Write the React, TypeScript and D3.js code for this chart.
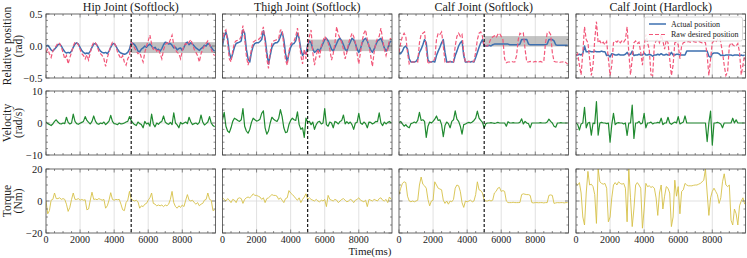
import { useEffect, useRef } from "react";
import * as d3 from "d3";

const W = 747;
const H = 258;
const STEP_MS = 100; // sampling interval of every series below
const X_MAX = 9950;
const SWITCH_MS = 5000;

const titles = [
  "Hip Joint (Softlock)",
  "Thigh Joint (Softlock)",
  "Calf Joint (Softlock)",
  "Calf Joint (Hardlock)",
];
const rowLabels = [
  ["Relative position", "(rad)"],
  ["Velocity", "(rad/s)"],
  ["Torque", "(Nm)"],
];
const xTicks = [0, 2000, 4000, 6000, 8000];
const yTicks = [
  [-0.5, 0, 0.5],
  [-10, 0, 10],
  [-20, 0, 20],
];
const yTickLabels = [
  ["\u22120.5", "0.0", "0.5"],
  ["\u221210", "0", "10"],
  ["\u221220", "0", "20"],
];
const legendLabels = ["Actual position", "Raw desired position"];

// shaded lock range after the switch (rad)
const bands: ([number, number] | null)[] = [[-0.11, 0.06], [-0.08, 0.1], [-0.005, 0.155], null];

// ---- relative position (rad) ----
const hipActual = [
  0.0, 0.01, -0.02, -0.06, -0.08, -0.05, -0.02, 0.02, 0.03, 0.0,
  -0.05, -0.09, -0.11, -0.1, -0.11, -0.08, -0.02, 0.03, 0.05, 0.03,
  -0.02, -0.07, -0.1, -0.12, -0.11, -0.12, -0.08, -0.02, 0.03, 0.04,
  0.01, -0.04, -0.08, -0.1, -0.11, -0.1, -0.12, -0.08, -0.02, 0.03,
  0.04, 0.0, -0.05, -0.09, -0.11, -0.12, -0.13, -0.12, -0.1, -0.05,
  0.05, 0.04, 0.02, -0.02, -0.08, -0.09, -0.05, -0.03, 0.0, -0.02,
  0.01, 0.03, 0.0, -0.04, -0.02, -0.06, -0.05, -0.08, -0.04, 0.02,
  0.06, 0.05, 0.03, 0.04, 0.01, -0.03, -0.02, -0.06, -0.04, -0.03,
  -0.07, -0.02, 0.04, 0.06, 0.02, 0.05, 0.03, 0.0, -0.03, -0.05,
  -0.07, -0.04, -0.02, 0.01, 0.0, 0.04, 0.02, -0.02, -0.06, -0.08,
];
const hipDesired = [
  -0.1, -0.05, -0.12, -0.18, -0.08, -0.03, 0.0, 0.05, 0.04, -0.02,
  -0.1, -0.2, -0.15, -0.28, -0.18, -0.1, 0.0, 0.06, 0.05, 0.02,
  -0.05, -0.12, -0.15, -0.2, -0.14, -0.22, -0.1, 0.0, 0.06, 0.05,
  0.0, -0.08, -0.12, -0.15, -0.2, -0.32, -0.18, -0.1, 0.0, 0.06,
  0.05, 0.0, -0.1, -0.15, -0.2, -0.15, -0.25, -0.3, -0.2, -0.15,
  0.06, 0.02, -0.03, -0.08, -0.12, -0.1, -0.18, -0.25, -0.1, 0.0,
  0.08, 0.17, 0.03, -0.05, -0.03, -0.08, -0.05, -0.12, -0.2, -0.06,
  0.02, 0.05, 0.03, 0.1, 0.17, 0.02, -0.06, -0.1, -0.12, -0.2,
  -0.08, 0.0, 0.04, 0.02, 0.06, 0.1, 0.03, -0.05, -0.1, -0.15,
  -0.25, -0.12, -0.05, 0.0, 0.04, 0.08, 0.03, -0.05, -0.12, -0.15,
];
const thighActual = [
  0.0, 0.15, 0.22, 0.12, -0.1, -0.2, -0.12, -0.02, 0.04, 0.05,
  0.06, 0.08, 0.25, 0.2, -0.05, -0.2, -0.25, -0.1, 0.0, 0.04,
  0.05, 0.05, 0.07, 0.1, 0.24, 0.12, -0.1, -0.28, -0.15, -0.02,
  0.03, 0.05, 0.05, 0.08, 0.15, 0.22, 0.1, -0.12, -0.25, -0.12,
  -0.02, 0.03, 0.04, 0.08, 0.2, 0.12, -0.05, -0.15, -0.1, -0.12,
  0.02, 0.08, 0.05, -0.05, -0.1, -0.08, -0.05, -0.08, -0.02, 0.04,
  0.1, 0.12, 0.08, 0.02, -0.05, -0.08, -0.02, 0.04, 0.1, 0.12,
  0.08, 0.02, -0.05, -0.08, 0.0, 0.06, 0.12, 0.1, 0.04, -0.05,
  -0.1, -0.04, 0.05, 0.1, 0.12, 0.08, 0.0, -0.06, -0.1, -0.05,
  0.02, 0.08, 0.1, 0.12, 0.05, -0.03, -0.08, -0.04, 0.05, 0.08,
];
const thighDesired = [
  0.05, 0.22, 0.25, 0.05, -0.2, -0.25, -0.08, 0.05, 0.08, 0.09,
  0.1, 0.15, 0.32, 0.12, -0.15, -0.3, -0.2, -0.05, 0.06, 0.08,
  0.1, 0.1, 0.12, 0.2, 0.3, 0.05, -0.2, -0.35, -0.1, 0.04,
  0.08, 0.09, 0.1, 0.12, 0.25, 0.25, 0.0, -0.22, -0.3, -0.08,
  0.03, 0.06, 0.08, 0.15, 0.28, 0.1, -0.15, -0.28, -0.05, -0.2,
  0.0, 0.15, 0.25, -0.1, -0.3, -0.15, -0.05, -0.18, 0.0, 0.08,
  0.15, 0.1, 0.05, -0.05, -0.22, -0.12, 0.05, 0.3, 0.18, 0.12,
  0.05, -0.05, -0.2, -0.1, 0.05, 0.12, 0.2, 0.15, 0.05, -0.12,
  -0.28, -0.1, 0.08, 0.2, 0.25, 0.1, 0.0, -0.15, -0.32, -0.1,
  0.05, 0.12, 0.15, 0.28, 0.1, -0.05, -0.15, -0.05, 0.1, 0.12,
];
const calfActual = [
  -0.12, -0.12, -0.08, -0.02, 0.0, -0.05, -0.2, -0.25, -0.25, -0.25,
  -0.24, -0.2, -0.1, -0.05, 0.02, 0.1, 0.05, -0.22, -0.25, -0.25,
  -0.24, -0.25, -0.15, -0.08, -0.02, 0.05, 0.1, -0.1, -0.25, -0.25,
  -0.24, -0.25, -0.25, -0.15, -0.08, 0.0, 0.05, 0.08, -0.15, -0.25,
  -0.25, -0.24, -0.25, -0.24, -0.25, -0.18, -0.1, -0.02, 0.05, 0.1,
  0.0, 0.0, 0.0, 0.01, 0.0, 0.02, 0.03, 0.03, 0.03, 0.03,
  0.03, 0.03, 0.03, 0.03, 0.03, 0.02, 0.02, 0.02, 0.02, 0.02,
  0.02, 0.03, 0.1, 0.1, 0.1, 0.1, 0.03, 0.02, 0.02, 0.02,
  0.02, 0.02, 0.02, 0.02, 0.02, 0.02, 0.02, 0.03, 0.1, 0.1,
  0.1, 0.08, 0.02, 0.01, 0.01, 0.01, 0.01, 0.01, 0.01, 0.01,
];
const calfDesired = [
  -0.1, 0.05, 0.15, 0.2, 0.15, -0.1, -0.28, -0.25, -0.25, -0.25,
  -0.24, -0.25, 0.05, 0.18, 0.2, 0.22, -0.05, -0.28, -0.25, -0.25,
  -0.24, -0.2, 0.1, 0.2, 0.18, 0.22, 0.0, -0.25, -0.26, -0.25,
  -0.25, -0.24, -0.25, 0.0, 0.15, 0.2, 0.15, 0.18, -0.1, -0.26,
  -0.25, -0.24, -0.25, -0.25, -0.24, -0.1, 0.1, 0.2, 0.22, 0.15,
  0.0, 0.0, 0.0, 0.05, 0.12, 0.14, 0.16, 0.13, 0.18, 0.2,
  0.15, 0.1, -0.2, -0.26, -0.25, -0.25, -0.24, -0.25, -0.25, -0.15,
  0.1, 0.2, 0.18, 0.2, -0.05, -0.25, -0.25, -0.24, -0.25, -0.25,
  -0.24, -0.25, -0.25, -0.24, -0.25, -0.24, 0.05, 0.2, 0.22, 0.18,
  -0.1, -0.24, -0.25, -0.25, -0.26, -0.25, -0.25, -0.24, -0.26, -0.28,
];
const hardActual = [
  -0.14, -0.14, -0.13, -0.14, -0.12, 0.0, -0.09, -0.09, -0.08, -0.09,
  -0.09, -0.08, -0.09, -0.09, -0.09, -0.08, -0.09, -0.09, -0.15, -0.14,
  -0.17, -0.12, -0.13, -0.14, -0.14, -0.13, -0.14, -0.14, -0.14, -0.13,
  -0.1, -0.14, -0.13, -0.08, -0.15, -0.14, -0.14, -0.13, -0.14, -0.14,
  -0.11, -0.14, -0.14, -0.13, -0.14, -0.16, -0.14, -0.14, -0.13, -0.14,
  -0.12, -0.14, -0.14, -0.13, -0.14, -0.14, -0.1, -0.14, -0.14, -0.13,
  -0.13, -0.14, -0.14, -0.14, -0.14, -0.08, -0.08, -0.08, -0.08, -0.08,
  -0.08, -0.08, -0.08, -0.08, -0.08, -0.08, -0.08, -0.08, -0.16, -0.18,
  -0.12, -0.11, -0.11, -0.11, -0.12, -0.15, -0.14, -0.15, -0.14, -0.14,
  -0.14, -0.14, -0.15, -0.14, -0.14, -0.14, -0.15, -0.14, -0.15, -0.14,
];
const hardDesired = [
  -0.15, -0.12, -0.3, -0.45, -0.1, 0.3, 0.1, 0.05, -0.2, -0.46,
  -0.3, 0.1, 0.38, 0.05, 0.08, 0.03, 0.06, 0.02, 0.07, -0.2,
  -0.46, -0.3, 0.05, 0.08, 0.06, 0.09, 0.05, 0.08, 0.06, 0.1,
  0.3, -0.1, -0.45, -0.2, 0.05, 0.08, 0.04, 0.06, -0.1, -0.3,
  0.0, 0.18, 0.05, -0.05, -0.45, -0.46, 0.02, 0.08, 0.1, 0.05,
  0.18, 0.08, -0.05, 0.1, 0.05, -0.2, -0.46, -0.3, 0.05, 0.06,
  0.02, -0.2, 0.0, 0.05, 0.06, 0.06, 0.07, 0.06, 0.06, 0.07,
  0.06, 0.06, 0.07, 0.06, 0.05, 0.06, 0.05, -0.15, -0.46, -0.2,
  0.05, 0.08, 0.06, 0.1, 0.18, 0.05, -0.1, -0.3, -0.46, -0.4,
  0.0, 0.05, 0.02, 0.0, 0.0, 0.04, -0.1, -0.45, -0.3, -0.15,
];

// ---- velocity (rad/s) ----
const hipVel = [
  0.3, -0.2, -0.5, -0.8, -0.3, 0.5, 1.0, 0.3, -0.2, -0.3,
  0.0, -0.2, 1.8, 0.2, -0.3, 0.0, 2.8, 0.5, -0.2, -0.4,
  -0.1, 0.2, 0.5, 2.0, 0.8, 0.2, -0.3, 0.5, 2.2, 0.6,
  -0.2, -0.4, 0.0, -0.2, 0.3, -0.5, 0.0, 0.6, 2.4, 0.5,
  -0.2, -0.3, -0.5, 0.0, -0.3, -0.2, 0.0, 0.3, 0.5, 2.0,
  0.8, 0.0, -0.5, -0.8, 0.3, -0.2, -0.5, -1.5, 0.5, -0.3,
  0.0, -1.0, 2.8, -0.3, -1.2, 0.0, -0.4, 0.2, 0.5, 2.2,
  0.3, -0.2, -0.4, 0.2, -0.5, 3.2, 0.0, -0.6, -1.5, 0.2,
  -0.3, 0.0, 0.3, -0.2, 1.8, 0.4, -0.5, -0.2, 0.0, -0.4,
  0.2, 2.5, 0.3, -0.6, -0.2, 0.3, 2.0, 0.0, -0.8, -1.2,
];
const thighVel = [
  1.0, 3.3, -1.0, -2.5, -3.0, -1.5, 0.5, 1.5, 1.2, 0.8,
  0.5, 1.0, 4.5, -1.0, -2.5, -3.2, -2.0, 0.2, 1.5, 1.0,
  0.6, 0.8, 1.2, 3.0, 3.8, -1.5, -3.5, -2.5, 0.0, 1.8,
  1.2, 0.8, 0.5, 1.5, 4.2, 2.0, -1.5, -3.0, -2.8, -0.5,
  0.8, 1.5, 1.0, 0.8, 3.5, -0.5, -2.0, -1.5, -4.5, 1.5,
  0.3, 0.5, -0.5, 0.3, -2.0, -0.5, 0.3, 0.5, -0.3, 0.0,
  4.5, -0.5, -1.0, 0.3, 0.0, -1.5, 0.5, 0.2, -0.3, 0.5,
  0.8, 2.5, -0.3, 0.4, -0.2, 0.3, -0.5, -2.0, 0.0, 0.2,
  3.0, 0.0, -0.4, 0.3, -0.2, -1.5, 0.3, 0.2, -0.3, 0.0,
  0.5, 0.4, 3.2, 0.0, -0.8, 0.3, -0.3, 0.2, 0.5, 0.0,
];
const calfVel = [
  0.2, 0.5, -0.3, -1.0, -0.5, -1.2, -1.5, -0.2, 0.0, 0.3,
  0.0, 0.8, 3.3, 0.8, 1.0, 0.5, -4.5, -1.0, 0.3, 0.0,
  0.5, 1.2, 2.2, 0.8, 1.0, -0.5, -4.3, -0.8, 0.3, -0.2,
  -1.5, 0.5, 1.0, 3.8, 1.2, 0.5, -1.0, -3.5, -0.5, -0.3,
  0.0, 0.2, 0.0, 0.3, 0.8, 1.5, 3.7, 1.5, 0.8, 0.2,
  -1.5, -0.2, 0.0, 0.0, 0.1, 0.0, -0.1, 0.0, 0.2, 0.0,
  0.0, 0.0, 0.0, -1.0, 0.4, 0.0, 0.0, 0.1, 0.0, 0.0,
  0.0, 0.2, 1.3, -0.3, 0.5, 0.0, -0.2, -1.5, 0.0, 0.0,
  0.0, 0.0, 0.0, 0.1, 0.0, 0.0, 0.0, 0.3, 1.2, 0.5,
  0.0, -1.0, -1.3, 0.0, 0.0, 0.1, 0.0, 0.0, 0.0, 0.0,
];
const hardVel = [
  0.0, -0.5, -2.2, -0.3, 0.0, 4.9, -1.5, 0.0, 0.2, -3.8,
  0.0, -0.2, 6.7, -3.8, 0.0, 0.2, 0.0, 0.0, -0.2, 0.0,
  -6.0, -0.5, 3.0, -0.5, 0.0, 0.1, 0.0, 0.0, -0.3, 0.0,
  -3.9, 0.0, 0.0, 5.6, -4.8, 0.0, 0.0, 0.5, -0.3, 0.0,
  3.0, -1.5, 0.0, 0.0, 0.3, -0.3, 0.0, 0.0, 0.2, 0.0,
  1.5, -0.5, 0.0, 0.0, 1.8, 0.0, -0.4, 0.0, 0.3, 0.0,
  2.0, -0.3, 0.0, 0.3, 2.2, 0.0, 0.0, 0.0, 0.0, 0.0,
  0.0, 0.0, 0.0, 0.0, 0.0, 0.0, 0.0, -5.8, 0.0, 3.7,
  -6.9, 0.0, 0.0, 0.2, 0.0, -0.3, -1.5, 0.0, 0.0, 0.0,
  0.0, 0.0, 1.5, 0.0, 1.0, 0.0, 0.0, 0.0, 0.0, 0.0,
];

// ---- torque (Nm) ----
const hipTorque = [
  0.0, -8.0, -6.0, 0.5, 1.0, 5.0, 1.5, 1.5, 2.0, 1.0,
  1.5, 1.0, -2.0, -6.5, -4.0, 1.0, 5.0, 1.0, 1.0, 1.5,
  0.5, 1.0, 0.5, 0.8, -5.5, -5.0, 0.5, 5.5, 1.0, 1.2,
  0.8, 1.5, 1.0, 0.5, 1.0, -4.5, -3.0, 0.5, 5.2, 1.0,
  0.5, 1.0, 0.8, 1.0, -2.0, -5.5, -6.0, -1.0, 0.5, 6.0,
  1.0, 0.5, 0.0, 0.5, -0.5, -4.5, -3.0, -3.5, -2.0, -1.5,
  0.5, 2.0, 5.0, -1.5, -2.0, -3.0, -2.5, -3.0, -2.5, -3.5,
  -2.5, -3.0, -2.0, 1.0, 6.0, -1.0, -3.5, -4.5, -3.0, -4.0,
  -2.5, -3.5, 0.5, 4.0, 0.5, 0.0, 0.5, -1.0, -2.0, -1.0,
  -3.0, -2.0, -1.5, 0.5, 1.0, 5.0, 1.0, 0.5, -6.0, -5.5,
];
const thighTorque = [
  2.0, 1.0, 0.0, 1.5, 0.5, -1.0, 1.0, 0.5, -1.0, 1.5,
  2.0, 1.5, -1.5, 1.0, 2.0, 2.5, 2.0, 3.0, 4.5, 3.5,
  3.5, 3.0, 2.5, 1.0, 2.0, -1.0, 1.5, 2.0, 3.0, 4.0,
  3.5, 3.5, 3.0, 1.0, 2.0, 0.5, -1.0, 1.5, 2.0, 6.5,
  5.0, 4.0, 3.0, 1.5, 0.5, 2.0, -1.0, 1.0, 2.5, 4.5,
  1.0, 2.0, 1.0, 0.5, 0.0, 1.0, 0.0, -0.5, 0.5, 0.0,
  1.0, -3.5, 3.5, 1.0, 0.5, 0.0, 1.0, 0.5, -1.0, 0.0,
  1.0, 1.5, 0.5, -0.5, 0.0, 1.0, 0.5, -1.0, 0.5, 1.0,
  2.0, 0.5, 0.0, -0.5, 0.5, -3.5, 1.0, 0.5, 0.0, 1.0,
  0.5, 0.0, 1.5, 2.0, 0.5, 0.0, 1.0, -1.0, 2.5, 1.0,
];
const calfTorque = [
  4.0, 8.0, 11.0, 12.0, 11.5, 3.0, 0.0, -0.5, 0.0, -0.5,
  0.0, 0.5, 10.0, 15.0, 10.5, 9.5, 8.0, 1.0, -3.0, 0.0,
  0.5, 12.0, 10.0, 8.0, 7.5, 7.0, 0.5, -1.5, 0.0, -2.0,
  0.0, -0.5, 1.0, 8.0, 10.0, 9.5, 6.0, -1.0, -4.0, 0.0,
  -0.5, 0.0, 0.5, -0.5, 0.0, 4.0, 12.0, 7.0, 6.5, 5.0,
  0.5, 0.0, 0.0, 0.5, 0.0, 0.5, 5.0, 6.0, 8.0, 8.5,
  6.0, 6.5, 6.0, 0.0, -1.0, -1.0, -1.0, -0.8, -1.0, -1.0,
  -1.0, -0.9, 4.0, 4.5, 4.2, 4.0, 4.0, 3.5, -1.0, -1.2,
  -1.0, -1.0, -1.1, -1.0, -1.0, -1.2, -1.0, -1.0, 3.5, 3.8,
  3.5, -1.5, -1.2, -1.0, -1.1, -1.0, -1.0, -1.2, -1.0, -1.0,
];
const hardTorque = [
  11.0, 10.0, 11.5, 5.0, -10.0, -15.0, 5.0, 18.5, 10.0, 10.5,
  9.0, 4.0, -14.0, 20.0, 12.0, 11.0, 10.5, 11.0, 8.0, -13.0,
  -10.0, 2.0, 10.0, 11.5, 10.0, 12.0, 11.0, 10.5, 11.0, 8.0,
  -13.0, 20.0, 2.0, -16.0, -5.0, 10.0, 11.5, 10.0, 8.0, -17.0,
  -5.0, 11.0, 9.0, 9.5, 8.5, 9.0, 8.0, 2.0, -9.0, 5.0,
  10.0, -5.0, 3.0, 9.0, 8.0, 5.0, -16.0, -10.0, 13.0, 3.0,
  9.0, -8.0, 6.0, 7.0, 11.0, 10.0, 9.5, 9.5, 9.5, 9.8,
  10.0, 10.0, 10.5, 11.0, 12.0, 13.0, 20.0, 5.0, -9.0, 2.0,
  6.0, 8.0, 6.0, 4.0, -1.5, 2.0, 12.0, 17.0, 10.0, 9.0,
  10.0, -12.0, -15.0, -5.0, -8.0, -15.0, -3.0, 0.0, 2.0, -2.0,
];

const actualSeries = [hipActual, thighActual, calfActual, hardActual];
const desiredSeries = [hipDesired, thighDesired, calfDesired, hardDesired];
const velSeries = [hipVel, thighVel, calfVel, hardVel];
const torqueSeries = [hipTorque, thighTorque, calfTorque, hardTorque];

const BLUE = "#3e70b0";
const RED = "#f2587a";
const GREEN = "#208a30";
const YELLOW = "#d6c147";
const GRID = "#d9d9d9";
const AXIS = "#444";
const INK = "#1a1a1a";
const FONT = "'Liberation Serif', 'DejaVu Serif', serif";

export default function App() {
  const svgRef = useRef<SVGSVGElement>(null);

  useEffect(() => {
    const svg = d3.select(svgRef.current!);
    svg.selectAll("*").remove();

    const colLeft = [46, 222.5, 399, 576];
    const colW = 169.5;
    const rowTop = [14, 91, 169];
    const rowH = 64;
    const yMinorStep = [0.1, 2, 5];

    const xMinor = d3.range(0, X_MAX, 500).filter((v) => v % 2000 !== 0);

    for (let c = 0; c < 4; c++) {
      const x = d3
        .scaleLinear()
        .domain([0, X_MAX])
        .range([colLeft[c], colLeft[c] + colW]);
      const x0 = colLeft[c];
      const x1 = colLeft[c] + colW;

      svg
        .append("text")
        .attr("x", (x0 + x1) / 2)
        .attr("y", 10.5)
        .attr("text-anchor", "middle")
        .attr("font-family", FONT)
        .attr("font-size", 12)
        .attr("fill", INK)
        .text(titles[c]);

      for (let r = 0; r < 3; r++) {
        const dom = yTicks[r];
        const y = d3
          .scaleLinear()
          .domain([dom[0], dom[2]])
          .range([rowTop[r] + rowH, rowTop[r]]);
        const y0 = rowTop[r];
        const y1 = rowTop[r] + rowH;

        const clipId = `clip-${r}-${c}`;
        svg
          .append("clipPath")
          .attr("id", clipId)
          .append("rect")
          .attr("x", x0)
          .attr("y", y0)
          .attr("width", colW)
          .attr("height", rowH);

        const g = svg.append("g");
        const plot = g.append("g").attr("clip-path", `url(#${clipId})`);

        // grid
        xTicks.slice(1).forEach((v) => {
          plot
            .append("line")
            .attr("x1", x(v))
            .attr("x2", x(v))
            .attr("y1", y0)
            .attr("y2", y1)
            .attr("stroke", GRID)
            .attr("stroke-width", 0.8);
        });
        plot
          .append("line")
          .attr("x1", x0)
          .attr("x2", x1)
          .attr("y1", y(0))
          .attr("y2", y(0))
          .attr("stroke", GRID)
          .attr("stroke-width", 0.8);

        const line = d3
          .line<number>()
          .x((_d, i) => x(i * STEP_MS))
          .y((d) => y(d));

        if (r === 0) {
          const band = bands[c];
          if (band) {
            plot
              .append("rect")
              .attr("x", x(SWITCH_MS))
              .attr("y", y(band[1]))
              .attr("width", x(X_MAX) - x(SWITCH_MS))
              .attr("height", y(band[0]) - y(band[1]))
              .attr("fill", "#a9a9a9")
              .attr("opacity", 0.7);
          }
          plot
            .append("path")
            .attr("d", line(actualSeries[c]))
            .attr("fill", "none")
            .attr("stroke", BLUE)
            .attr("stroke-width", 1.5)
            .attr("stroke-linejoin", "round");
          plot
            .append("path")
            .attr("d", line(desiredSeries[c]))
            .attr("fill", "none")
            .attr("stroke", RED)
            .attr("stroke-width", 1.2)
            .attr("stroke-dasharray", "4,2");
        } else if (r === 1) {
          plot
            .append("path")
            .attr("d", line(velSeries[c]))
            .attr("fill", "none")
            .attr("stroke", GREEN)
            .attr("stroke-width", 1.2)
            .attr("stroke-linejoin", "round");
        } else {
          plot
            .append("path")
            .attr("d", line(torqueSeries[c]))
            .attr("fill", "none")
            .attr("stroke", YELLOW)
            .attr("stroke-width", 0.9)
            .attr("stroke-linejoin", "round");
        }

        if (c < 3) {
          plot
            .append("line")
            .attr("x1", x(SWITCH_MS))
            .attr("x2", x(SWITCH_MS))
            .attr("y1", y0)
            .attr("y2", y1)
            .attr("stroke", "#000")
            .attr("stroke-width", 1.1)
            .attr("stroke-dasharray", "3,2");
        }

        // frame
        g.append("rect")
          .attr("x", x0)
          .attr("y", y0)
          .attr("width", colW)
          .attr("height", rowH)
          .attr("fill", "none")
          .attr("stroke", AXIS)
          .attr("stroke-width", 0.8);

        // inward ticks on all four sides
        const tk = g.append("g").attr("stroke", AXIS).attr("stroke-width", 0.6);
        const xt = (v: number, len: number) => {
          tk.append("line").attr("x1", x(v)).attr("x2", x(v)).attr("y1", y1).attr("y2", y1 - len);
          tk.append("line").attr("x1", x(v)).attr("x2", x(v)).attr("y1", y0).attr("y2", y0 + len);
        };
        const yt = (v: number, len: number) => {
          tk.append("line").attr("x1", x0).attr("x2", x0 + len).attr("y1", y(v)).attr("y2", y(v));
          tk.append("line").attr("x1", x1).attr("x2", x1 - len).attr("y1", y(v)).attr("y2", y(v));
        };
        xTicks.forEach((v) => xt(v, 3.5));
        xMinor.forEach((v) => xt(v, 2));
        const minor = d3
          .range(dom[0], dom[2] + 1e-9, yMinorStep[r])
          .filter((v) => !dom.some((m) => Math.abs(m - v) < 1e-9));
        dom.forEach((v) => yt(v, 3.5));
        minor.forEach((v) => yt(v, 2));

        if (c === 0) {
          dom.forEach((v, i) => {
            svg
              .append("text")
              .attr("x", x0 - 3.5)
              .attr("y", y(v))
              .attr("dy", "0.35em")
              .attr("text-anchor", "end")
              .attr("font-family", FONT)
              .attr("font-size", 10.5)
              .attr("fill", INK)
              .text(yTickLabels[r][i]);
          });
          const cy = (y0 + y1) / 2;
          rowLabels[r].forEach((t, i) => {
            svg
              .append("text")
              .attr("transform", `translate(${11 + i * 11},${cy}) rotate(-90)`)
              .attr("text-anchor", "middle")
              .attr("font-family", FONT)
              .attr("font-size", 11.5)
              .attr("fill", INK)
              .text(t);
          });
        }

        if (r === 2) {
          xTicks.forEach((v) => {
            svg
              .append("text")
              .attr("x", x(v))
              .attr("y", 242.5)
              .attr("text-anchor", "middle")
              .attr("font-family", FONT)
              .attr("font-size", 10)
              .attr("fill", INK)
              .text(String(v));
          });
        }

        if (r === 0 && c === 3) {
          const lg = svg.append("g");
          lg.append("rect")
            .attr("x", 644.5)
            .attr("y", 17)
            .attr("width", 98)
            .attr("height", 24)
            .attr("rx", 2)
            .attr("fill", "#fff")
            .attr("fill-opacity", 0.85)
            .attr("stroke", "#d0d0d0")
            .attr("stroke-width", 0.8);
          const colors = [BLUE, RED];
          legendLabels.forEach((t, i) => {
            const ly = 24 + i * 10.5;
            lg.append("line")
              .attr("x1", 649)
              .attr("x2", 666)
              .attr("y1", ly)
              .attr("y2", ly)
              .attr("stroke", colors[i])
              .attr("stroke-width", i === 0 ? 1.5 : 1.2)
              .attr("stroke-dasharray", i === 0 ? null : "4,2");
            lg.append("text")
              .attr("x", 671)
              .attr("y", ly)
              .attr("dy", "0.35em")
              .attr("font-family", FONT)
              .attr("font-size", 8)
              .attr("fill", INK)
              .text(t);
          });
        }
      }
    }

    svg
      .append("text")
      .attr("x", 370)
      .attr("y", 254.5)
      .attr("text-anchor", "middle")
      .attr("font-family", FONT)
      .attr("font-size", 11)
      .attr("fill", INK)
      .text("Time(ms)");
  }, []);

  return (
    <svg
      ref={svgRef}
      width={W}
      height={H}
      style={{ position: "absolute", left: 0, top: 0, background: "#fff" }}
    />
  );
}
